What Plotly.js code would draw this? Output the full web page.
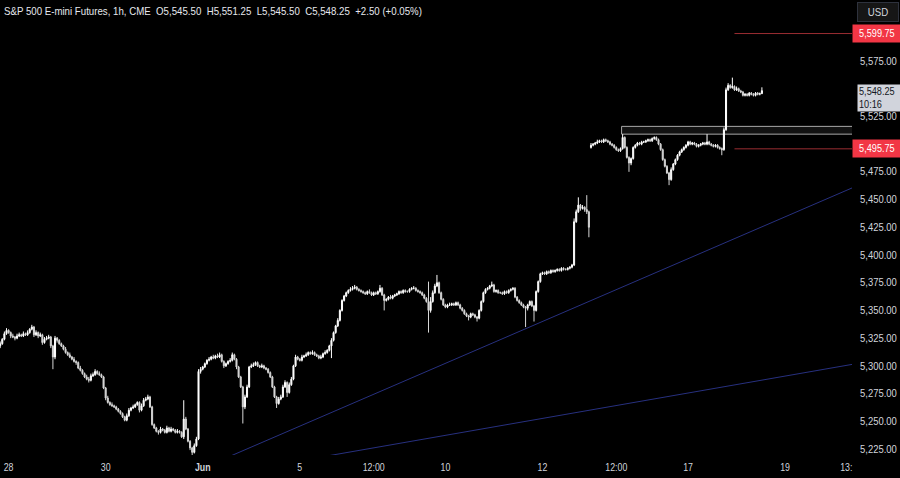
<!DOCTYPE html>
<html>
<head>
<meta charset="utf-8">
<script src="https://cdn.plot.ly/plotly-3.0.1.min.js"></script>
<style>
  html, body { margin: 0; padding: 0; background: #000; }
  #chart { width: 900px; height: 478px; }
</style>
</head>
<body>
<div id="chart"></div>
<script>
// ---- Data: S&P 500 E-mini Futures, 1h bars ----
const open = [
5318,5320,5324,5329,5332,5330,5327,5326,5325,5327,
5328,5327,5329,5328,5330,5333,5335,5328,5330,5327,
5328,5321,5324,5325,5326,5318,5308,5325,5323,5320,
5318,5315,5312,5310,5308,5306,5304,5303,5298,5296,
5293,5290,5288,5287,5291,5292,5295,5293,5292,5290,
5280,5271,5267,5265,5264,5263,5261,5259,5257,5254,
5251,5255,5260,5262,5263,5265,5267,5260,5264,5269,
5270,5272,5263,5247,5244,5241,5240,5243,5242,5240,
5244,5241,5243,5242,5240,5241,5240,5236,5252,5243,
5232,5226,5222,5228,5234,5295,5297,5299,5302,5305,
5306,5308,5307,5309,5308,5310,5304,5300,5302,5304,
5305,5310,5306,5299,5290,5281,5263,5272,5281,5299,
5300,5301,5303,5300,5299,5300,5298,5297,5294,5290,
5281,5272,5266,5270,5272,5281,5285,5276,5283,5288,
5300,5308,5306,5305,5308,5309,5310,5312,5311,5312,
5310,5309,5307,5308,5311,5312,5314,5318,5323,5330,
5336,5341,5350,5359,5363,5366,5368,5369,5370,5371,
5369,5368,5367,5366,5365,5367,5366,5364,5366,5365,
5367,5370,5364,5359,5360,5362,5361,5363,5364,5365,
5367,5366,5368,5367,5367,5369,5370,5370,5368,5367,
5366,5364,5361,5358,5350,5358,5366,5372,5375,5366,
5360,5355,5353,5355,5355,5356,5355,5357,5355,5352,
5350,5347,5345,5344,5347,5346,5344,5343,5350,5358,
5366,5369,5370,5372,5373,5367,5368,5366,5366,5365,
5367,5366,5368,5369,5370,5362,5359,5357,5355,5353,
5352,5355,5358,5354,5350,5367,5376,5383,5384,5383,
5385,5384,5386,5385,5386,5387,5386,5388,5387,5387,
5388,5389,5391,5430,5439,5445,5442,5443,5441,5439,
5497,5499,5500,5501,5502,5503,5502,5504,5503,5502,
5500,5499,5497,5495,5494,5496,5506,5497,5488,5483,
5487,5497,5499,5501,5500,5502,5502,5503,5504,5503,
5505,5506,5504,5500,5495,5486,5480,5474,5468,5477,
5482,5486,5490,5493,5495,5497,5499,5502,5500,5501,
5500,5498,5499,5500,5501,5500,5502,5500,5499,5498,
5499,5497,5496,5495,5513,5549,5553,5551,5552,5549,
5550,5548,5547,5544,5545,5544,5546,5545,5544,5546,
5545,5545.5];

const high = [
5322,5325,5331,5334,5333,5331,5329,5327,5329,5330,
5329,5331,5330,5332,5334,5337,5336,5332,5331,5330,
5329,5326,5327,5328,5327,5319,5327,5326,5324,5321,
5319,5317,5313,5312,5309,5308,5305,5304,5300,5297,
5294,5292,5290,5293,5294,5297,5296,5295,5293,5291,
5281,5273,5268,5267,5265,5264,5262,5260,5258,5255,
5257,5262,5263,5265,5266,5268,5268,5266,5271,5272,
5274,5273,5264,5248,5245,5242,5245,5244,5243,5246,
5245,5245,5244,5243,5243,5242,5241,5269,5254,5244,
5233,5227,5230,5236,5297,5299,5300,5303,5306,5308,
5309,5310,5310,5311,5312,5311,5305,5303,5305,5307,
5312,5311,5307,5300,5291,5282,5274,5283,5300,5302,
5303,5304,5304,5301,5302,5301,5299,5298,5295,5291,
5282,5273,5272,5274,5283,5287,5286,5285,5290,5301,
5310,5309,5307,5310,5310,5312,5313,5313,5314,5313,
5311,5310,5310,5312,5314,5315,5319,5325,5331,5337,
5343,5351,5360,5364,5367,5369,5371,5372,5373,5372,
5370,5369,5368,5367,5368,5369,5367,5367,5367,5368,
5373,5371,5365,5361,5363,5364,5364,5365,5366,5368,
5368,5369,5369,5368,5370,5371,5372,5371,5369,5368,
5367,5365,5362,5376,5362,5368,5374,5382,5376,5367,
5361,5356,5356,5357,5357,5357,5358,5358,5356,5353,
5351,5348,5346,5348,5348,5347,5345,5351,5359,5367,
5370,5371,5373,5376,5374,5369,5369,5367,5367,5368,
5368,5369,5370,5371,5371,5363,5360,5358,5356,5354,
5356,5359,5359,5355,5368,5377,5384,5385,5385,5386,
5386,5387,5387,5387,5388,5388,5389,5389,5388,5389,
5390,5392,5433,5441,5452,5446,5445,5444,5454,5440,
5501,5501,5502,5504,5504,5504,5505,5505,5504,5503,
5501,5500,5498,5496,5497,5509,5507,5498,5489,5488,
5498,5500,5502,5502,5503,5503,5504,5505,5505,5506,
5507,5507,5505,5501,5496,5487,5481,5475,5479,5483,
5487,5491,5494,5496,5498,5500,5503,5503,5502,5502,
5501,5500,5501,5502,5502,5509,5503,5501,5500,5500,
5500,5498,5497,5515,5551,5555,5554,5560,5553,5552,
5551,5549,5548,5546,5546,5547,5547,5546,5547,5547,
5546.5,5551.25];

const low = [
5316,5319,5323,5328,5329,5325,5325,5323,5324,5326,
5326,5326,5327,5327,5329,5332,5326,5327,5325,5326,
5319,5320,5323,5324,5316,5297,5306,5321,5319,5317,
5314,5311,5309,5307,5305,5303,5301,5297,5295,5292,
5289,5287,5285,5286,5290,5291,5292,5291,5289,5279,
5269,5266,5264,5263,5262,5260,5258,5256,5253,5250,
5250,5254,5259,5261,5262,5264,5258,5259,5263,5268,
5269,5262,5246,5243,5240,5238,5239,5241,5239,5239,
5240,5240,5241,5239,5239,5239,5235,5234,5242,5231,
5224,5219,5221,5227,5233,5293,5296,5298,5301,5304,
5305,5306,5306,5307,5307,5303,5298,5299,5301,5303,
5304,5305,5297,5289,5280,5248,5261,5271,5280,5298,
5299,5300,5299,5298,5298,5297,5296,5293,5289,5280,
5271,5262,5265,5269,5271,5280,5272,5275,5282,5287,
5299,5305,5304,5304,5307,5308,5309,5310,5310,5309,
5308,5306,5306,5307,5310,5311,5313,5307,5322,5329,
5335,5340,5349,5358,5362,5365,5367,5368,5369,5368,
5367,5366,5365,5364,5364,5365,5363,5363,5364,5364,
5366,5363,5350,5358,5359,5360,5360,5362,5363,5364,
5365,5365,5366,5366,5366,5368,5369,5367,5366,5365,
5363,5360,5357,5330,5348,5357,5365,5371,5365,5359,
5354,5352,5352,5354,5354,5354,5354,5354,5351,5349,
5346,5344,5341,5343,5345,5343,5340,5342,5349,5357,
5365,5368,5369,5371,5366,5366,5365,5365,5364,5364,
5365,5365,5367,5368,5361,5358,5356,5354,5352,5335,
5350,5354,5353,5340,5349,5366,5375,5382,5382,5382,
5383,5383,5384,5384,5385,5385,5385,5386,5386,5386,
5387,5388,5390,5429,5438,5440,5441,5439,5437,5416,
5496,5498,5499,5500,5501,5501,5501,5502,5501,5499,
5498,5496,5494,5493,5493,5495,5496,5487,5475,5481,
5486,5496,5498,5499,5499,5501,5501,5502,5502,5502,
5504,5503,5499,5494,5485,5479,5473,5463,5467,5476,
5481,5485,5489,5492,5494,5496,5498,5499,5499,5499,
5497,5497,5498,5499,5499,5499,5499,5498,5497,5497,
5496,5495,5490,5494,5512,5548,5550,5550,5548,5548,
5547,5546,5543,5543,5543,5543,5544,5543,5543,5544,
5544,5545.5];

const close = [
5320,5324,5329,5332,5330,5327,5326,5325,5327,5328,
5327,5329,5328,5330,5333,5335,5328,5330,5327,5328,
5321,5324,5325,5326,5318,5308,5325,5323,5320,5318,
5315,5312,5310,5308,5306,5304,5303,5298,5296,5293,
5290,5288,5287,5291,5292,5295,5293,5292,5290,5280,
5271,5267,5265,5264,5263,5261,5259,5257,5254,5251,
5255,5260,5262,5263,5265,5267,5260,5264,5269,5270,
5272,5263,5247,5244,5241,5240,5243,5242,5240,5244,
5241,5243,5242,5240,5241,5240,5236,5252,5243,5232,
5226,5222,5228,5234,5295,5297,5299,5302,5305,5306,
5308,5307,5309,5308,5310,5304,5300,5302,5304,5305,
5310,5306,5299,5290,5281,5263,5272,5281,5299,5300,
5301,5303,5300,5299,5300,5298,5297,5294,5290,5281,
5272,5266,5270,5272,5281,5285,5276,5283,5288,5300,
5308,5306,5305,5308,5309,5310,5312,5311,5312,5310,
5309,5307,5308,5311,5312,5314,5318,5323,5330,5336,
5341,5350,5359,5363,5366,5368,5369,5370,5371,5369,
5368,5367,5366,5365,5367,5366,5364,5366,5365,5367,
5370,5364,5359,5360,5362,5361,5363,5364,5365,5367,
5366,5368,5367,5367,5369,5370,5370,5368,5367,5366,
5364,5361,5358,5350,5358,5366,5372,5375,5366,5360,
5355,5353,5355,5355,5356,5355,5357,5355,5352,5350,
5347,5345,5344,5347,5346,5344,5343,5350,5358,5366,
5369,5370,5372,5373,5367,5368,5366,5366,5365,5367,
5366,5368,5369,5370,5362,5359,5357,5355,5353,5352,
5355,5358,5354,5350,5367,5376,5383,5384,5383,5385,
5384,5386,5385,5386,5387,5386,5388,5387,5387,5388,
5389,5391,5430,5439,5445,5442,5443,5441,5439,5425,
5499,5500,5501,5502,5503,5502,5504,5503,5502,5500,
5499,5497,5495,5494,5496,5506,5497,5488,5483,5487,
5497,5499,5501,5500,5502,5502,5503,5504,5503,5505,
5506,5504,5500,5495,5486,5480,5474,5468,5477,5482,
5486,5490,5493,5495,5497,5499,5502,5500,5501,5500,
5498,5499,5500,5501,5500,5502,5500,5499,5498,5499,
5497,5496,5495,5513,5549,5553,5551,5552,5549,5550,
5548,5547,5544,5545,5544,5546,5545,5544,5546,5545,
5545.5,5548.25];

// Time axis (bar index -> label)
const timeTickBars = [4, 50, 96, 142, 177, 211, 257, 292, 326, 372, 401];
const timeTickText = ['28', '30', '<b>Jun</b>', '5', '12:00', '10', '12', '12:00', '17', '19', '13:'];

// Price axis ticks (5,550 and 5,600 sit under the price labels, as in the original)
const priceTicks = [5225, 5250, 5275, 5300, 5325, 5350, 5375, 5400, 5425, 5450, 5475, 5500, 5525, 5575];

// Drawings
const trendA_bars = [109.2, 404];
const trendA_prices = [5218.7, 5460.7];
const trendB_bars = [154.9, 404];
const trendB_prices = [5218.7, 5301.4];
const levelHigh = 5599.75;
const levelLow = 5495.75;
const levelStartBar = 348;
const zoneStartBar = 294.5;
const zonePrices = [5509, 5516];
const lastPrice = 5548.25;
const countdown = '10:16';
const headerText = 'S&P 500 E-mini Futures, 1h, CME  O5,545.50  H5,551.25  L5,545.50  C5,548.25  +2.50 (+0.05%)';

// ---- Chart ----
const xMin = -0.08, xMax = 403.7;
const bars = close.map((_, i) => i);
const FONT = '"Liberation Sans", Arial, sans-serif';
const fmt = v => v.toLocaleString('en-US', {minimumFractionDigits: 2, maximumFractionDigits: 2});

const traces = [
  {
    type: 'candlestick', x: bars, open: open, high: high, low: low, close: close,
    increasing: {line: {color: '#ffffff', width: 1}, fillcolor: '#ffffff'},
    decreasing: {line: {color: '#d6d6d6', width: 1}, fillcolor: '#d6d6d6'},
    whiskerwidth: 0, hoverinfo: 'skip', showlegend: false
  },
  {type: 'scatter', mode: 'lines', x: trendA_bars, y: trendA_prices,
   line: {color: '#27307f', width: 1}, hoverinfo: 'skip', showlegend: false},
  {type: 'scatter', mode: 'lines', x: trendB_bars, y: trendB_prices,
   line: {color: '#27307f', width: 1}, hoverinfo: 'skip', showlegend: false},
  {type: 'scatter', mode: 'lines', x: [levelStartBar, xMax], y: [levelHigh, levelHigh],
   line: {color: '#9a2d32', width: 1}, hoverinfo: 'skip', showlegend: false},
  {type: 'scatter', mode: 'lines', x: [levelStartBar, xMax], y: [levelLow, levelLow],
   line: {color: '#9a2d32', width: 1}, hoverinfo: 'skip', showlegend: false}
];

const layout = {
  width: 900, height: 478,
  margin: {l: 0, r: 48, t: 0, b: 23, pad: 0},
  paper_bgcolor: '#000000', plot_bgcolor: '#000000',
  showlegend: false,
  font: {family: FONT, color: '#d1d4dc', size: 11},
  xaxis: {
    type: 'linear', range: [xMin, xMax],
    tickvals: timeTickBars, ticktext: timeTickText,
    showgrid: false, zeroline: false, showline: false, ticks: '',
    tickfont: {family: FONT, size: 11, color: '#d1d4dc'},
    ticklabelstandoff: 4,
    rangeslider: {visible: false}, fixedrange: true
  },
  yaxis: {
    side: 'right', range: [5219.6, 5630],
    tickvals: priceTicks, tickformat: ',.2f',
    showgrid: false, zeroline: false, showline: false, ticks: '',
    tickfont: {family: FONT, size: 10.4, color: '#d1d4dc'},
    ticklabelstandoff: 7, fixedrange: true
  },
  shapes: [
    {type: 'rect', xref: 'x', yref: 'y', x0: zoneStartBar, x1: xMax + 1,
     y0: zonePrices[0], y1: zonePrices[1],
     line: {color: '#a8a8a8', width: 1}, fillcolor: 'rgba(70,70,70,0.25)', layer: 'below'}
  ],
  annotations: [
    {xref: 'paper', yref: 'paper', x: 0, y: 1, xanchor: 'left', yanchor: 'top', align: 'left',
     xshift: 2, yshift: -3, showarrow: false, text: headerText.replace(/&/g, '&amp;'),
     font: {family: FONT, size: 11, color: '#e6e8ee'}},
    {xref: 'paper', yref: 'y', x: 1, y: levelHigh, xanchor: 'left', yanchor: 'middle',
     showarrow: false, text: fmt(levelHigh), bgcolor: '#f23645', width: 44, height: 13, borderpad: 2,
     font: {family: FONT, size: 10.4, color: '#ffffff'}},
    {xref: 'paper', yref: 'y', x: 1, y: levelLow, xanchor: 'left', yanchor: 'middle',
     showarrow: false, text: fmt(levelLow), bgcolor: '#f23645', width: 44, height: 13, borderpad: 2,
     font: {family: FONT, size: 10.4, color: '#ffffff'}},
    {xref: 'paper', yref: 'y', x: 1, y: lastPrice, xanchor: 'left', yanchor: 'top', yshift: 7, xshift: 5,
     showarrow: false, text: fmt(lastPrice) + '<br>' + countdown, align: 'left',
     bgcolor: '#d1d4dc', width: 41, height: 24, borderpad: 1,
     font: {family: FONT, size: 10.4, color: '#131722'}},
    {xref: 'paper', yref: 'paper', x: 1, y: 1, xanchor: 'left', yanchor: 'top', xshift: 5, yshift: -2,
     showarrow: false, text: 'USD', bgcolor: '#161616', bordercolor: '#2e323d', borderwidth: 1,
     width: 38, height: 16, borderpad: 1,
     font: {family: FONT, size: 11, color: '#d1d4dc'}}
  ]
};

// Condense text horizontally (the original uses a narrow face)
function squeeze(nodes, f) {
  nodes.forEach(t => {
    const lines = t.querySelectorAll('tspan.line');
    const targets = lines.length ? Array.from(lines) : [t];
    targets.forEach(el => {
      const w = el.getComputedTextLength();
      if (w > 0) {
        el.setAttribute('textLength', (w * f).toFixed(2));
        el.setAttribute('lengthAdjust', 'spacingAndGlyphs');
      }
    });
  });
}

Plotly.newPlot('chart', traces, layout, {displayModeBar: false, staticPlot: true}).then(() => {
  squeeze(document.querySelectorAll('.ytick text'), 0.91);
  squeeze(document.querySelectorAll('.xtick text'), 0.8);
  squeeze(document.querySelectorAll('.annotation-text'), 0.88);
});
</script>
</body>
</html>
